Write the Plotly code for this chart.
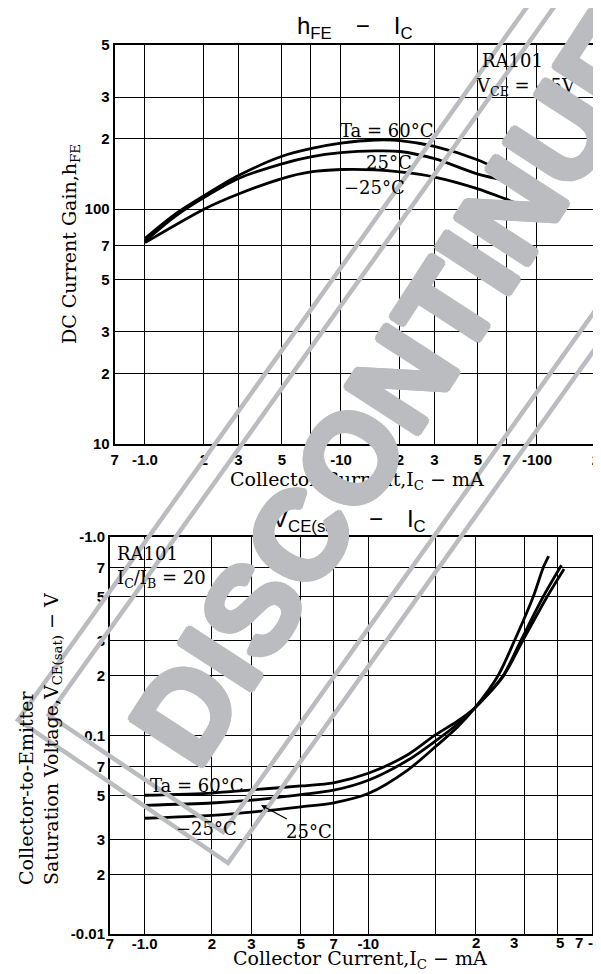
import numpy as np
import plotly.graph_objects as go

W, H = 601, 974

# ---------------- data: hFE - IC (top chart) ----------------
ic_60 = [1.0, 1.42, 2, 3, 5, 7, 10, 15, 20, 30, 50, 63]
hfe_60 = [75, 95, 114, 139, 168, 181, 191, 197, 196, 185, 162, 148]
ic_25 = [1.0, 1.42, 2, 3, 5, 7, 10, 15, 20, 30, 50, 68]
hfe_25 = [73, 93, 112, 135, 156, 167, 174, 177, 176, 164, 141, 133]
ic_m25 = [1.0, 2, 3, 5, 7, 10, 15, 20, 30, 50, 70, 86, 100]
hfe_m25 = [72, 100, 116, 135, 144, 147.5, 147, 144, 137, 122, 110, 103, 100]

# ---------------- data: VCE(sat) - IC (bottom chart) ----------------
ic_b60 = [1, 2, 3, 5, 7, 10, 15, 20, 25, 30, 40, 49, 63, 75]
vce_60 = [0.050, 0.0513, 0.0532, 0.0557, 0.0578, 0.0645, 0.080, 0.101, 0.118, 0.138, 0.198, 0.30, 0.50, 0.69]
ic_b25 = [1, 2, 3, 5, 7, 10, 15, 20, 25, 30, 40, 48, 60.5, 73]
vce_25 = [0.0445, 0.0457, 0.0472, 0.0504, 0.053, 0.0595, 0.075, 0.094, 0.114, 0.138, 0.20, 0.30, 0.50, 0.72]
ic_bm25 = [1, 2, 3, 5, 7, 10, 15, 20, 25, 30, 38, 45, 54.6, 60.5, 64]
vce_m25 = [0.0383, 0.0396, 0.0411, 0.0437, 0.0458, 0.051, 0.067, 0.088, 0.11, 0.138, 0.20, 0.30, 0.50, 0.70, 0.80]

# ---------------- tick labels ----------------
top_x_vals = [0.7, 1, 2, 3, 5, 10, 20, 30, 50, 70, 100, 200]
top_x_text = ["7", "-1.0", "2", "3", "5", "-10", "2", "3", "5", "7", "-100", "2"]
top_x_minor = [7]
top_y_vals = [10, 20, 30, 50, 70, 100, 200, 300, 500]
top_y_text = ["10", "2", "3", "5", "7", "100", "2", "3", "5"]

bot_x_vals = [0.7, 1, 2, 3, 5, 7, 10]
bot_x_text = ["7", "-1.0", "2", "3", "5", "7", "-10"]
bot_x_minor = [20, 30, 50, 70]
bot_x_extra_text = ["2", "3", "5", "7", "-100"]
bot_x_extra_px = [468, 506, 552, 571, 578]
bot_x_extra_anchor = ["center", "center", "center", "center", "left"]
bot_y_vals = [0.01, 0.02, 0.03, 0.05, 0.07, 0.1, 0.2, 0.3, 0.5, 0.7, 1.0]
bot_y_text = ["-0.01", "2", "3", "5", "7", "-0.1", "2", "3", "5", "7", "-1.0"]

SERIF = "DejaVu Serif"
SANS = "Liberation Sans"
GRAY = "#bbbcbf"


def px(x):
    return x / W


def py(y):
    return 1 - y / H


fig = go.Figure()
line = dict(color="black", width=2.8, shape="spline", smoothing=0.8)
for xs, ys in [(ic_60, hfe_60), (ic_25, hfe_25), (ic_m25, hfe_m25)]:
    fig.add_trace(go.Scatter(x=xs, y=ys, mode="lines", line=line, xaxis="x", yaxis="y",
                             showlegend=False, hoverinfo="skip"))
for xs, ys in [(ic_b60, vce_60), (ic_b25, vce_25), (ic_bm25, vce_m25)]:
    fig.add_trace(go.Scatter(x=xs, y=ys, mode="lines", line=line, xaxis="x2", yaxis="y2",
                             showlegend=False, hoverinfo="skip"))

tickfont = dict(family=SANS, size=15, color="black", weight="bold")
axis_common = dict(type="log", showgrid=True, gridcolor="black", gridwidth=1.2,
                   showline=True, linecolor="black", linewidth=2, mirror=True,
                   ticks="", tickfont=tickfont, zeroline=False, fixedrange=True,
                   automargin=False)


def minor(vals):
    return dict(tickmode="array", tickvals=vals, showgrid=True, gridcolor="black",
                gridwidth=1.2, ticks="")


fig.update_layout(
    width=W, height=H,
    margin=dict(l=0, r=0, t=0, b=0),
    paper_bgcolor="white", plot_bgcolor="white",
    xaxis=dict(axis_common, domain=[px(106.6), px(588)], anchor="y",
               range=[np.log10(0.7), np.log10(200)], ticklabelstandoff=1,
               tickmode="array", tickvals=top_x_vals, ticktext=top_x_text,
               minor=minor(top_x_minor)),
    yaxis=dict(axis_common, domain=[py(436), py(37)], anchor="x",
               range=[1, np.log10(500)], ticklabelstandoff=0,
               tickmode="array", tickvals=top_y_vals, ticktext=top_y_text),
    xaxis2=dict(axis_common, domain=[px(102), px(584)], anchor="y2",
                range=[np.log10(0.7), 2], ticklabelstandoff=-5,
                tickmode="array", tickvals=bot_x_vals, ticktext=bot_x_text,
                minor=minor(bot_x_minor)),
    yaxis2=dict(axis_common, domain=[py(926), py(529)], anchor="x2",
                range=[-2, 0], ticklabelstandoff=0,
                tickmode="array", tickvals=bot_y_vals, ticktext=bot_y_text),
)

ann = []


def text(x, y, s, size=18, family=SERIF, xanchor="center", yanchor="middle", angle=0, align="center"):
    ann.append(dict(x=px(x), y=py(y), xref="paper", yref="paper", text=s, showarrow=False,
                    xanchor=xanchor, yanchor=yanchor, textangle=angle, align=align,
                    font=dict(family=family, size=size, color="black")))


# top chart texts
text(347, 20, "h<sub>FE</sub>\u2002\u2002−\u2002\u2002I<sub>C</sub>", size=24, family=SANS)
text(472, 52, "RA101", xanchor="left")
text(466, 79, "V<sub>CE</sub> = −5V", xanchor="left")
text(379, 122, "Ta = 60°C")
text(381, 154, "25°C")
text(366, 180, "−25°C")
text(349, 473, "Collector Current,I<sub>C</sub> − mA", size=19)
text(62, 236, "DC Current Gain,h<sub>FE</sub>", size=19, angle=-90)

# bottom chart texts
text(341, 512, "V<sub>CE(sat)</sub>\u2002\u2002−\u2002\u2002I<sub>C</sub>", size=24, family=SANS)
text(107, 545, "RA101", xanchor="left")
text(107, 571, "I<sub>C</sub>/I<sub>B</sub> = 20", xanchor="left")
text(189, 777, "Ta = 60°C")
text(198, 820, "−25°C")
text(352, 951, "Collector Current,I<sub>C</sub> − mA", size=19)
text(32, 731, "Collector-to-Emitter<br>Saturation Voltage,V<sub>CE(sat)</sub> − V", size=19,
     angle=-90, align="left")
for s, xp, anc in zip(bot_x_extra_text, bot_x_extra_px, bot_x_extra_anchor):
    ann.append(dict(x=px(xp), y=py(924), xref="paper", yref="paper", text=s, showarrow=False,
                    xanchor=anc, yanchor="top", font=tickfont))
# 25°C leader
ann.append(dict(x=px(253), y=py(797), xref="paper", yref="paper", text="25°C",
                showarrow=True, ax=48, ay=26, arrowhead=2, arrowsize=0.9, arrowwidth=1.2,
                arrowcolor="black", font=dict(family=SERIF, size=18, color="black")))

# watermark text (last, on top)
sh = ", ".join(f"{dx}px {dy}px 0 {GRAY}" for dx, dy in
               [(3, 0), (-3, 0), (0, 3), (0, -3), (2, 2), (-2, -2), (2, -2), (-2, 2)])
ann.append(dict(x=px(413), y=py(342), xref="paper", yref="paper", text="DISCONTINUED",
                showarrow=False, xanchor="center", yanchor="middle", textangle=-57,
                font=dict(family=SANS, size=125, color=GRAY, weight="bold", shadow=sh)))

fig.update_layout(annotations=ann)

# watermark double frame
u = np.array([0.581, -0.814])
L = 1200


def frame(a, b):
    a = np.array(a, float)
    b = np.array(b, float)
    pts = [a, b, b + L * u, a + L * u]
    path = "M " + " L ".join(f"{px(p[0]):.5f},{py(p[1]):.5f}" for p in pts) + " Z"
    return dict(type="path", path=path, xref="paper", yref="paper", layer="above",
                line=dict(color=GRAY, width=4.5), fillcolor="rgba(0,0,0,0)")


fig.update_layout(shapes=[frame((10, 712), (220, 855)), frame((40.7, 707), (215, 824))])

fig.write_html("out.html")
